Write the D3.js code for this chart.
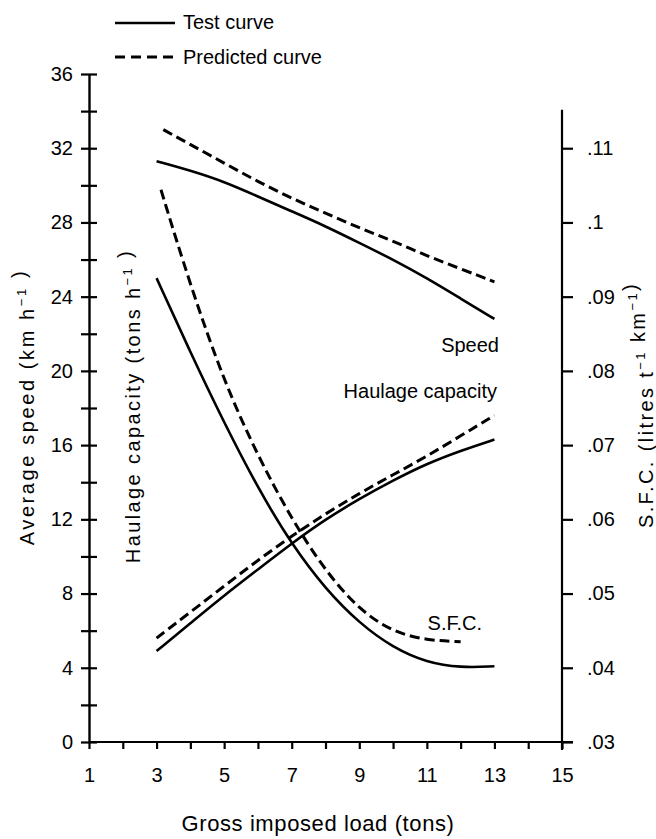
<!DOCTYPE html>
<html>
<head>
<meta charset="utf-8">
<script src="https://cdn.jsdelivr.net/npm/d3@7"></script>
<style>
  html, body { margin: 0; padding: 0; background: #fff; }
  svg { display: block; }
  text { font-family: "Liberation Sans", Arial, Helvetica, sans-serif; fill: #000; }
</style>
</head>
<body>
<svg id="chart" width="656" height="839"></svg>
<script>
// ---------- data ----------
const xTicks = [1,2,3,4,5,6,7,8,9,10,11,12,13,14,15];
const leftTicks = [0,2,4,6,8,10,12,14,16,18,20,22,24,26,28,30,32,34,36];
const rightTicks = [0.03,0.04,0.05,0.06,0.07,0.08,0.09,0.10,0.11];
const rightTickLabels = [".03",".04",".05",".06",".07",".08",".09",".1",".11"];

// Average speed (km/h)
const speedTestX = [3, 4, 5, 6, 7, 8, 9, 10, 11, 12, 13];
const speedTest  = [31.3, 30.8, 30.2, 29.4, 28.6, 27.8, 26.9, 26.0, 25.0, 23.9, 22.8];
const speedPredX = [3.2, 4, 5, 6, 7, 8, 9, 10, 11, 12, 13];
const speedPred  = [33.0, 32.2, 31.2, 30.2, 29.3, 28.5, 27.7, 27.0, 26.2, 25.5, 24.8];

// Haulage capacity (tons/h)
const haulTestX = [3, 4, 5, 6, 7, 8, 9, 10, 11, 12, 13];
const haulTest  = [4.9, 6.4, 7.9, 9.3, 10.7, 12.0, 13.1, 14.1, 15.0, 15.7, 16.3];
const haulPredX = [3, 4, 5, 6, 7, 8, 9, 10, 11, 12, 13];
const haulPred  = [5.6, 7.0, 8.4, 9.8, 11.1, 12.3, 13.4, 14.4, 15.4, 16.5, 17.6];

// S.F.C. (litres / t / km)
const sfcTestX = [3, 4, 5, 6, 7, 8, 9, 10, 11, 12, 13];
const sfcTest  = [0.0925, 0.0825, 0.0730, 0.0642, 0.0566, 0.0506, 0.0460, 0.0427, 0.0407, 0.0400, 0.0402];
const sfcPredX = [3.13, 4, 5, 6, 7, 8, 9, 10, 11, 12];
const sfcPred  = [0.1044, 0.0915, 0.0785, 0.0685, 0.0600, 0.0530, 0.0478, 0.0448, 0.0437, 0.0435];

// ---------- layout ----------
const svg = d3.select("#chart");
const X0 = 89, X1 = 562, Y0 = 742, Y1 = 74;
const x = d3.scaleLinear().domain([1, 15]).range([X0, X1]);
const yL = d3.scaleLinear().domain([0, 36]).range([Y0, Y1]);
const yR = d3.scaleLinear().domain([0.03, 0.12]).range([Y0, Y1]);

const FS = 20;

// left axis (ticks crossing the line)
const gL = svg.append("g").attr("transform", `translate(${X0},0)`);
gL.call(d3.axisLeft(yL).tickValues(leftTicks).tickSize(8).tickSizeOuter(0).tickPadding(8)
  .tickFormat(d => d % 4 === 0 ? d : ""));
const gL2 = svg.append("g").attr("transform", `translate(${X0},0)`);
gL2.call(d3.axisRight(yL).tickValues(leftTicks).tickSize(8).tickSizeOuter(0).tickFormat(""));
gL2.select(".domain").remove();

// right axis
const gR = svg.append("g").attr("transform", `translate(${X1},0)`);
gR.call(d3.axisRight(yR).tickValues(rightTicks).tickSize(11).tickSizeOuter(0).tickPadding(14)
  .tickFormat((d, i) => rightTickLabels[i]));
gR.select(".domain").remove();
gR.append("line").attr("x1", 0).attr("x2", 0).attr("y1", yR(0.03) + 8).attr("y2", yR(0.1152));

// bottom axis
const gB = svg.append("g").attr("transform", `translate(0,${Y0})`);
gB.call(d3.axisBottom(x).tickValues(xTicks).tickSize(7).tickSizeOuter(0).tickPadding(19)
  .tickFormat(d => d % 2 === 1 ? d : ""));
gB.select(".domain").remove();
gB.append("line").attr("x1", x(1)).attr("x2", x(15) + 11).attr("y1", 0).attr("y2", 0);

svg.selectAll(".tick line, g > line").attr("stroke", "#000").attr("stroke-width", 2.2);
gL.select(".domain").attr("stroke", "#000").attr("stroke-width", 2.4);
svg.selectAll(".tick text").attr("font-size", FS).attr("font-family", "Liberation Sans, Arial, sans-serif").attr("fill", "#000");

// ---------- curves ----------
function drawLine(xs, ys, yScale, dashed) {
  const pts = xs.map((d, i) => [d, ys[i]]);
  const line = d3.line().x(d => x(d[0])).y(d => yScale(d[1])).curve(d3.curveBasis);
  svg.append("path").datum(pts).attr("d", line)
    .attr("fill", "none").attr("stroke", "#000")
    .attr("stroke-width", dashed ? 3 : 2.6)
    .attr("stroke-dasharray", dashed ? "10,5" : null)
    .attr("stroke-linecap", "butt");
}
drawLine(speedTestX, speedTest, yL, false);
drawLine(speedPredX, speedPred, yL, true);
drawLine(haulTestX, haulTest, yL, false);
drawLine(haulPredX, haulPred, yL, true);
drawLine(sfcTestX, sfcTest, yR, false);
drawLine(sfcPredX, sfcPred, yR, true);

// curve labels
svg.append("text").attr("x", 499).attr("y", 352).attr("text-anchor", "end").attr("font-size", FS).text("Speed");
svg.append("text").attr("x", 497).attr("y", 398).attr("text-anchor", "end").attr("font-size", FS).text("Haulage capacity");
svg.append("text").attr("x", 482).attr("y", 630).attr("text-anchor", "end").attr("font-size", FS).text("S.F.C.");

// ---------- legend ----------
svg.append("line").attr("x1", 115).attr("x2", 175).attr("y1", 23).attr("y2", 23)
  .attr("stroke", "#000").attr("stroke-width", 2.6);
svg.append("text").attr("x", 183).attr("y", 29).attr("font-size", FS).text("Test curve");
svg.append("line").attr("x1", 115).attr("x2", 175).attr("y1", 57).attr("y2", 57)
  .attr("stroke", "#000").attr("stroke-width", 3).attr("stroke-dasharray", "10,6");
svg.append("text").attr("x", 183).attr("y", 64).attr("font-size", FS).text("Predicted curve");

// ---------- axis titles ----------
function rotTitle(cx, cy, parts, ls) {
  const t = svg.append("text").attr("transform", `translate(${cx},${cy}) rotate(-90)`)
    .attr("text-anchor", "middle").attr("font-size", FS).attr("letter-spacing", ls);
  parts.forEach(p => {
    if (p.sup) {
      t.append("tspan").attr("dy", -8).attr("font-size", 13).text(p.t);
      t.append("tspan").attr("dy", 8).text("");
    } else {
      t.append("tspan").text(p.t);
    }
  });
}
rotTitle(34, 407, [{t: "Average speed (km h"}, {t: "−1", sup: true}, {t: " )"}], 2.6);
rotTitle(140, 406, [{t: "Haulage capacity (tons h"}, {t: "−1", sup: true}, {t: " )"}], 2.4);
rotTitle(653, 405, [{t: "S.F.C. (litres t"}, {t: "−1", sup: true}, {t: " km"}, {t: "−1", sup: true}, {t: ")"}], 2.4);

svg.append("text").attr("x", 318).attr("y", 831).attr("text-anchor", "middle")
  .attr("font-size", 22).attr("letter-spacing", 0.6).text("Gross imposed load (tons)");
</script>
</body>
</html>
